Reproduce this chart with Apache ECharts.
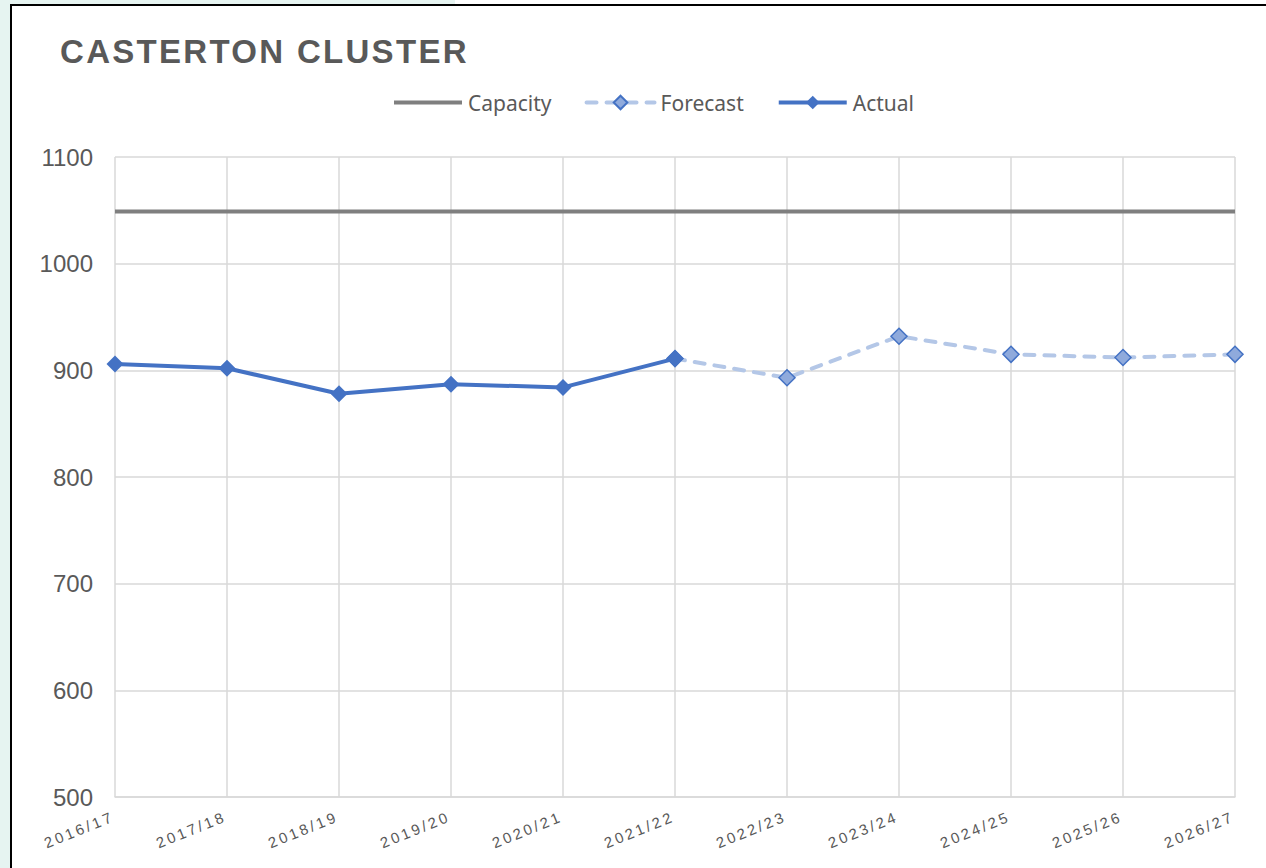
<!DOCTYPE html>
<html>
<head>
<meta charset="utf-8">
<script src="https://cdn.jsdelivr.net/npm/echarts@6/dist/echarts.min.js"></script>
<style>
html,body{margin:0;padding:0;width:1266px;height:868px;overflow:hidden;background:#e6f4f1;}
#topband{position:absolute;left:455px;top:0;right:0;height:4px;background:#fff;}
#frame{position:absolute;left:10px;top:4px;right:0;bottom:0;background:#fff;border-top:2px solid #000;border-left:2px solid #000;}
#chart{position:absolute;left:0;top:0;width:1266px;height:868px;}
#chart text[style*="33px"]{letter-spacing:2.3px;}
#chart text[style*="15px"]{letter-spacing:2.8px;}
</style>
</head>
<body>
<div id="topband"></div>
<div id="frame"></div>
<div id="chart"></div>
<script>
const chartTitle = 'CASTERTON CLUSTER';
const categories = ['2016/17','2017/18','2018/19','2019/20','2020/21','2021/22','2022/23','2023/24','2024/25','2025/26','2026/27'];
const capacity = [1049,1049,1049,1049,1049,1049,1049,1049,1049,1049,1049];
const forecast = [null,null,null,null,null,911,893,932,915,912,915];
const actual = [906,902,878,887,884,911,null,null,null,null,null];
const yMin = 500, yMax = 1100, yStep = 100;

const chart = echarts.init(document.getElementById('chart'), null, {renderer: 'svg', width: 1266, height: 868});
chart.setOption({
  animation: false,
  backgroundColor: 'transparent',
  title: {
    text: chartTitle,
    left: 60, top: 35, padding: 0,
    textStyle: {fontFamily: 'Liberation Sans', fontWeight: 'bold', fontSize: 33, color: '#595959'}
  },
  legend: {
    left: 392, top: 92, padding: 0,
    itemWidth: 68, itemHeight: 17, itemGap: 33,
    lineStyle: {width: 4},
    textStyle: {fontFamily: 'Noto Sans', fontSize: 21, color: '#595959', padding: [0,0,0,1]},
    data: [{name: 'Capacity', itemStyle: {opacity: 0}}, 'Forecast', 'Actual']
  },
  grid: {left: 115, right: 31, top: 157, bottom: 71, containLabel: false},
  xAxis: {
    type: 'category', data: categories, boundaryGap: false,
    axisLine: {show: true, lineStyle: {color: '#d9d9d9', width: 1.5}},
    axisTick: {show: false},
    splitLine: {show: true, lineStyle: {color: '#d9d9d9', width: 1.5}},
    axisLabel: {interval: 0, rotate: 22, margin: 18, padding: [0,2,0,0],
      fontFamily: 'Liberation Sans', fontSize: 15, color: '#595959'}
  },
  yAxis: {
    type: 'value', min: yMin, max: yMax, interval: yStep,
    axisLine: {show: false}, axisTick: {show: false},
    splitLine: {lineStyle: {color: '#d9d9d9', width: 1.5}},
    axisLabel: {margin: 22, fontFamily: 'Liberation Sans', fontSize: 24, color: '#595959',
      formatter: function (v) { return String(v); }}
  },
  series: [
    {name: 'Capacity', type: 'line', data: capacity, symbol: 'circle', showSymbol: false, color: '#7f7f7f',
      itemStyle: {color: '#7f7f7f', opacity: 0},
      lineStyle: {color: '#7f7f7f', width: 4, opacity: 1}, z: 2},
    {name: 'Forecast', type: 'line', data: forecast, symbol: 'diamond', symbolSize: 16, connectNulls: false,
      itemStyle: {color: '#8faadc', borderColor: '#4472c4', borderWidth: 1.5},
      lineStyle: {color: '#b4c7e7', width: 4, type: [10, 10], cap: 'round'}, z: 3},
    {name: 'Actual', type: 'line', data: actual, symbol: 'diamond', symbolSize: 17, connectNulls: false,
      itemStyle: {color: '#4472c4'},
      lineStyle: {color: '#4472c4', width: 4}, z: 4}
  ]
});
</script>
</body>
</html>
